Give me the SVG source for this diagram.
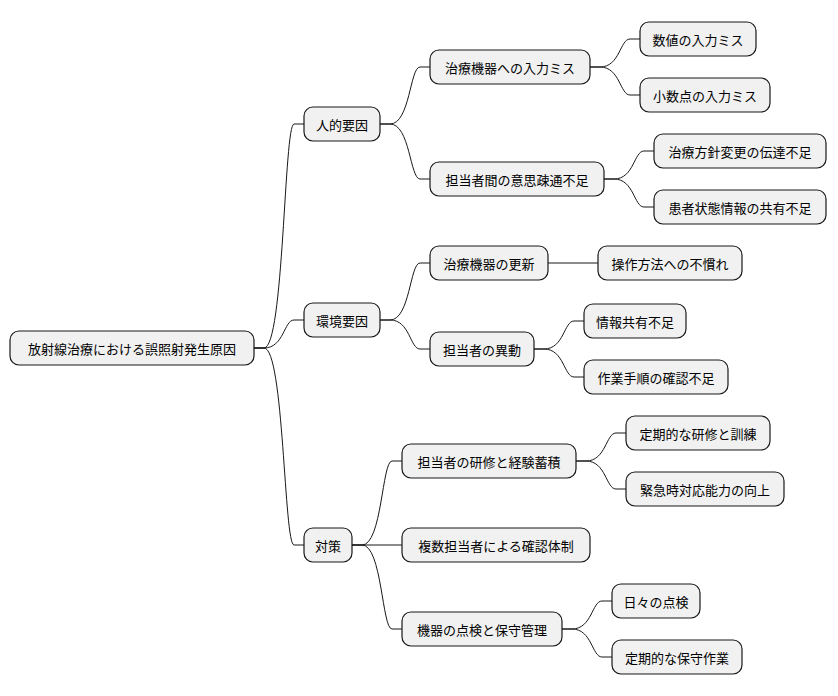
<svg xmlns="http://www.w3.org/2000/svg" width="838" height="696" viewBox="0 0 838 696">
<style>
rect{fill:#f1f1f1;stroke:#181818;stroke-width:1.2}
text{font-family:"Noto Sans CJK JP","Noto Sans CJK SC",sans-serif;font-size:13px;fill:#000;text-anchor:middle;dominant-baseline:central}
.c path{fill:none;stroke:#181818;stroke-width:1}
</style>
<rect x="0" y="0" width="838" height="696" style="fill:#fff;stroke:none"/>
<g class="c">
<path d="M254,348 L264,348 C284,348 284,124 294,124 L304,124"/>
<path d="M254,348 L264,348 C284,348 284,320 294,320 L304,320"/>
<path d="M254,348 L264,348 C284,348 284,545 294,545 L304,545"/>
<path d="M380,124 L390,124 C410,124 410,67 420,67 L430,67"/>
<path d="M380,124 L390,124 C410,124 410,179 420,179 L430,179"/>
<path d="M380,320 L390,320 C410,320 410,263 420,263 L430,263"/>
<path d="M380,320 L390,320 C410,320 410,349 420,349 L430,349"/>
<path d="M352,545 L362,545 C382,545 382,461 392,461 L402,461"/>
<path d="M352,545 L402,545"/>
<path d="M352,545 L362,545 C382,545 382,629 392,629 L402,629"/>
<path d="M590,67 L600,67 C620,67 620,39 630,39 L640,39"/>
<path d="M590,67 L600,67 C620,67 620,95 630,95 L640,95"/>
<path d="M604,179 L614,179 C634,179 634,151 644,151 L654,151"/>
<path d="M604,179 L614,179 C634,179 634,207 644,207 L654,207"/>
<path d="M548,263 L598,263"/>
<path d="M534,349 L544,349 C564,349 564,321 574,321 L584,321"/>
<path d="M534,349 L544,349 C564,349 564,377 574,377 L584,377"/>
<path d="M576,461 L586,461 C606,461 606,433 616,433 L626,433"/>
<path d="M576,461 L586,461 C606,461 606,489 616,489 L626,489"/>
<path d="M562,629 L572,629 C592,629 592,601 602,601 L612,601"/>
<path d="M562,629 L572,629 C592,629 592,657 602,657 L612,657"/>
</g>
<g id="root"><rect x="10" y="331" width="244" height="34" rx="9"/><text x="132" y="348">放射線治療における誤照射発生原因</text></g>
<g id="n1"><rect x="304" y="107" width="76" height="34" rx="9"/><text x="342" y="124">人的要因</text></g>
<g id="n2"><rect x="304" y="303" width="76" height="34" rx="9"/><text x="342" y="320">環境要因</text></g>
<g id="n3"><rect x="304" y="528" width="48" height="34" rx="9"/><text x="328" y="545">対策</text></g>
<g id="n11"><rect x="430" y="50" width="160" height="34" rx="9"/><text x="510" y="67">治療機器への入力ミス</text></g>
<g id="n12"><rect x="430" y="162" width="174" height="34" rx="9"/><text x="517" y="179">担当者間の意思疎通不足</text></g>
<g id="n21"><rect x="430" y="246" width="118" height="34" rx="9"/><text x="489" y="263">治療機器の更新</text></g>
<g id="n22"><rect x="430" y="332" width="104" height="34" rx="9"/><text x="482" y="349">担当者の異動</text></g>
<g id="n31"><rect x="402" y="444" width="174" height="34" rx="9"/><text x="489" y="461">担当者の研修と経験蓄積</text></g>
<g id="n32"><rect x="402" y="528" width="188" height="34" rx="9"/><text x="496" y="545">複数担当者による確認体制</text></g>
<g id="n33"><rect x="402" y="612" width="160" height="34" rx="9"/><text x="482" y="629">機器の点検と保守管理</text></g>
<g id="n111"><rect x="640" y="22" width="116" height="34" rx="9"/><text x="698" y="39">数値の入力ミス</text></g>
<g id="n112"><rect x="640" y="78" width="130" height="34" rx="9"/><text x="705" y="95">小数点の入力ミス</text></g>
<g id="n121"><rect x="654" y="134" width="172" height="34" rx="9"/><text x="740" y="151">治療方針変更の伝達不足</text></g>
<g id="n122"><rect x="654" y="190" width="172" height="34" rx="9"/><text x="740" y="207">患者状態情報の共有不足</text></g>
<g id="n211"><rect x="598" y="246" width="144" height="34" rx="9"/><text x="670" y="263">操作方法への不慣れ</text></g>
<g id="n221"><rect x="584" y="304" width="102" height="34" rx="9"/><text x="635" y="321">情報共有不足</text></g>
<g id="n222"><rect x="584" y="360" width="144" height="34" rx="9"/><text x="656" y="377">作業手順の確認不足</text></g>
<g id="n311"><rect x="626" y="416" width="144" height="34" rx="9"/><text x="698" y="433">定期的な研修と訓練</text></g>
<g id="n312"><rect x="626" y="472" width="158" height="34" rx="9"/><text x="705" y="489">緊急時対応能力の向上</text></g>
<g id="n331"><rect x="612" y="584" width="88" height="34" rx="9"/><text x="656" y="601">日々の点検</text></g>
<g id="n332"><rect x="612" y="640" width="130" height="34" rx="9"/><text x="677" y="657">定期的な保守作業</text></g>
</svg>
